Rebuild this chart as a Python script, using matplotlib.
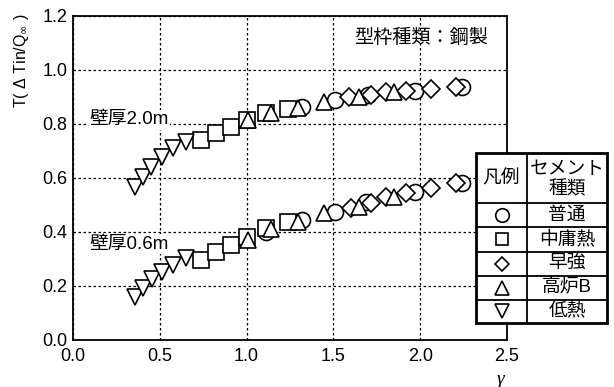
import matplotlib
matplotlib.use("Agg")
import matplotlib.pyplot as plt
from matplotlib.patches import Rectangle

# ---- data (wall thickness 2.0 m) ----
g20_circle = [1.318, 1.511, 1.697, 1.970, 2.243]
t20_circle = [0.864, 0.889, 0.907, 0.923, 0.938]
g20_square = [0.736, 0.826, 0.912, 1.002, 1.113, 1.241]
t20_square = [0.741, 0.768, 0.790, 0.815, 0.840, 0.854]
g20_diamond = [1.592, 1.717, 1.803, 1.918, 2.065, 2.205]
t20_diamond = [0.899, 0.907, 0.920, 0.923, 0.928, 0.938]
g20_tri = [1.007, 1.140, 1.295, 1.448, 1.646, 1.847]
t20_tri = [0.815, 0.840, 0.858, 0.883, 0.899, 0.917]
g20_dtri = [0.358, 0.404, 0.452, 0.510, 0.577, 0.649]
t20_dtri = [0.568, 0.605, 0.642, 0.679, 0.710, 0.735]

# ---- data (wall thickness 0.6 m) ----
g06_circle = [1.113, 1.318, 1.511, 1.690, 1.970, 2.243]
t06_circle = [0.400, 0.444, 0.475, 0.512, 0.549, 0.580]
g06_square = [0.736, 0.826, 0.912, 1.002, 1.113, 1.241]
t06_square = [0.296, 0.327, 0.352, 0.383, 0.414, 0.438]
g06_diamond = [1.600, 1.717, 1.803, 1.918, 2.065, 2.205]
t06_diamond = [0.488, 0.506, 0.531, 0.543, 0.562, 0.580]
g06_tri = [1.007, 1.140, 1.295, 1.448, 1.646, 1.850]
t06_tri = [0.370, 0.412, 0.438, 0.469, 0.494, 0.531]
g06_dtri = [0.356, 0.404, 0.456, 0.510, 0.577, 0.649]
t06_dtri = [0.160, 0.191, 0.225, 0.253, 0.278, 0.302]

cement_names = ["普通", "中庸熱", "早強", "高炉B", "低熱"]
cement_markers = ["o", "s", "D", "^", "v"]
marker_sizes = {"o": 11.5, "s": 11, "D": 8.8, "^": 12, "v": 12}

xticks = [0.0, 0.5, 1.0, 1.5, 2.0, 2.5]
yticks = [0.0, 0.2, 0.4, 0.6, 0.8, 1.0, 1.2]

W, H = 614, 387
fig = plt.figure(figsize=(W / 100, H / 100), dpi=100)
ax = fig.add_axes([73 / W, 1 - 340 / H, (507 - 73) / W, (340 - 16) / H])

ax.set_xlim(0, 2.5)
ax.set_ylim(0, 1.2)
ax.set_xticks(xticks)
ax.set_yticks(yticks)
ax.set_xticklabels([f"{v:.1f}" for v in xticks])
ax.set_yticklabels([f"{v:.1f}" for v in yticks])
for lab in ax.get_xticklabels() + ax.get_yticklabels():
    lab.set_fontfamily("Liberation Sans")
    lab.set_fontsize(13)
ax.tick_params(axis="both", length=0)
ax.tick_params(axis="x", pad=6)
ax.tick_params(axis="y", pad=4)

ax.grid(True, color="black", linestyle=(0, (2, 2)), linewidth=0.9)
ax.set_axisbelow(True)
for s in ["left", "bottom"]:
    ax.spines[s].set_linewidth(1.3)
for s in ["top", "right"]:
    ax.spines[s].set_linestyle((0, (1.5, 1)))
    ax.spines[s].set_linewidth(1.3)

series = [
    ("o", g20_circle, t20_circle, g06_circle, t06_circle),
    ("s", g20_square, t20_square, g06_square, t06_square),
    ("D", g20_diamond, t20_diamond, g06_diamond, t06_diamond),
    ("^", g20_tri, t20_tri, g06_tri, t06_tri),
    ("v", g20_dtri, t20_dtri, g06_dtri, t06_dtri),
]
for z, (m, ga, ta, gb, tb) in enumerate(series):
    for gx, ty in ((ga, ta), (gb, tb)):
        ax.plot(gx, ty, linestyle="none", marker=m, ms=marker_sizes[m],
                mfc="white", mec="black", mew=1.2, zorder=3 + z, clip_on=False)

bbox = dict(facecolor="white", edgecolor="none", pad=1)
cjk = ["Liberation Sans", "Noto Sans CJK JP"]
ax.text(0.095, 0.815, "壁厚2.0m", family=cjk, fontsize=13.5, ha="left",
        va="center", bbox=bbox, zorder=10)
ax.text(0.095, 0.355, "壁厚0.6m", family=cjk, fontsize=13.5, ha="left",
        va="center", bbox=bbox, zorder=10)
ax.text(0.956, 0.935, "型枠種類：鋼製", family=["Noto Sans CJK JP"],
        fontsize=13.8, ha="right", va="center", transform=ax.transAxes)

fig.text(22 / W, 1 - 61 / H, r"T( Δ Tin/Q$_{\infty}$ )", rotation=90,
         ha="center", va="center", family="Liberation Sans", fontsize=11.5)
fig.text(500 / W, 1 - 379 / H, "γ", family="Liberation Serif",
         style="italic", fontsize=14, ha="center", va="center")

# ---- legend table ----
tx0, tx1, tsplit = 476, 607, 527
ty0, ty1 = 153, 323
rows = [153, 203, 227, 251.5, 275.5, 299.5, 323]
tab = fig.add_axes([tx0 / W, 1 - ty1 / H, (tx1 - tx0) / W, (ty1 - ty0) / H])
tab.set_xlim(tx0, tx1)
tab.set_ylim(ty1, ty0)
tab.axis("off")
tab.add_patch(Rectangle((tx0, ty0), tx1 - tx0, ty1 - ty0, facecolor="white",
                        edgecolor="black", lw=2.0, clip_on=False))
tab.plot([tsplit, tsplit], [ty0, ty1], color="black", lw=1.3)
for r in rows[1:-1]:
    tab.plot([tx0, tx1], [r, r], color="black", lw=1.3)
cx_left = (tx0 + tsplit) / 2
cx_right = (tsplit + tx1) / 2
tab.text(cx_left, (rows[0] + rows[1]) / 2, "凡例", family=["Noto Sans CJK JP"],
         fontsize=13.5, ha="center", va="center")
tab.text(cx_right, (rows[0] + rows[1]) / 2 + 1, "セメント\n種類",
         family=["Noto Sans CJK JP"], fontsize=13.5, ha="center", va="center",
         linespacing=0.95)
for i, (name, m) in enumerate(zip(cement_names, cement_markers)):
    cy = (rows[i + 1] + rows[i + 2]) / 2
    tab.plot([cx_left], [cy], marker=m, ms=marker_sizes[m] * 0.85,
             mfc="white", mec="black", mew=1.2, linestyle="none")
    tab.text(cx_right, cy, name, family=["Liberation Sans", "Noto Sans CJK JP"],
             fontsize=13.5, ha="center", va="center")

fig.savefig("out.png", dpi=100)
